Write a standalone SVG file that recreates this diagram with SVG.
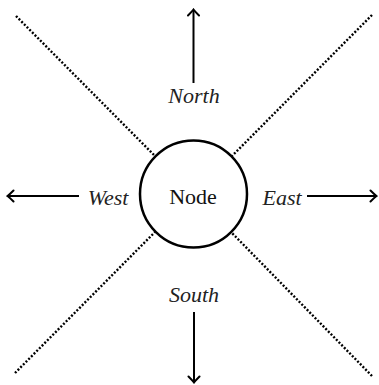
<svg xmlns="http://www.w3.org/2000/svg" width="379" height="385" viewBox="0 0 379 385">
  <style>
    .dot { stroke: #000; stroke-width: 2.4; stroke-dasharray: 2 1.8; fill: none; }
    .arr { stroke: #000; stroke-width: 2; fill: none; }
    text { font-family: "Liberation Serif", "DejaVu Serif", "Noto Serif", Tinos, Times, serif; font-size: 22px; text-anchor: middle; }
    .lbl { font-style: italic; fill: #222; }
    .nodetxt { fill: #111; }
  </style>
  <defs>
    <marker id="ah" markerUnits="userSpaceOnUse" viewBox="-8 -7 10 14" refX="0" refY="0" markerWidth="10" markerHeight="14" orient="auto">
      <path d="M -5.5 -5.5 Q -1.5 -1.5 0.5 0 Q -1.5 1.5 -5.5 5.5" stroke="#000" stroke-width="2" fill="none" stroke-linecap="round"/>
    </marker>
  </defs>
  <g id="connectors">
    <line class="dot" x1="16" y1="16" x2="155" y2="156"/>
    <line class="dot" x1="372" y1="15" x2="232" y2="156"/>
    <line class="dot" x1="15" y1="373" x2="155" y2="232"/>
    <line class="dot" x1="372" y1="376" x2="232" y2="233"/>
    <line class="arr" x1="193.5" y1="83" x2="193.5" y2="10" marker-end="url(#ah)"/>
    <line class="arr" x1="194" y1="312" x2="194" y2="382" marker-end="url(#ah)"/>
    <line class="arr" x1="79" y1="196" x2="8" y2="196" marker-end="url(#ah)"/>
    <line class="arr" x1="307" y1="196" x2="376" y2="196" marker-end="url(#ah)"/>
  </g>
  <g id="node">
    <circle cx="193.5" cy="194" r="53.5" fill="#fff" stroke="#000" stroke-width="2.5"/>
    <text class="nodetxt" x="193" y="204">Node</text>
  </g>
  <g id="label-north"><text class="lbl" x="194" y="103">North</text></g>
  <g id="label-south"><text class="lbl" x="194" y="302">South</text></g>
  <g id="label-west"><text class="lbl" x="108" y="205">West</text></g>
  <g id="label-east"><text class="lbl" x="282" y="205">East</text></g>
</svg>
